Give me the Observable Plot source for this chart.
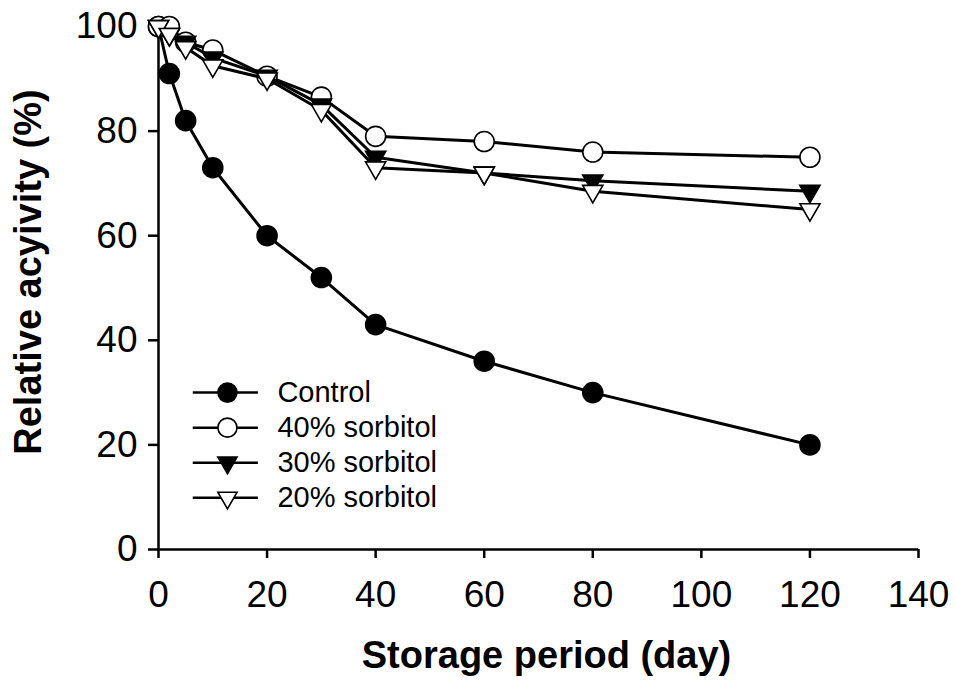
<!DOCTYPE html>
<html><head><meta charset="utf-8">
<script src="https://cdn.jsdelivr.net/npm/d3@7"></script>
<script src="https://cdn.jsdelivr.net/npm/@observablehq/plot@0.6"></script>
<style>
body{margin:0;background:#fff}
#chart svg{font-family:"Liberation Sans",Arial,sans-serif;background:#fff}
</style>
</head><body><div id="chart"></div>
<script>
// ---- data ----
const days = [0, 2, 5, 10, 20, 30, 40, 60, 80, 120];
const control = [100, 91, 82, 73, 60, 52, 43, 36, 30, 20];
const sorbitol40 = [100, 100, 97, 95.5, 90.5, 86.5, 79, 78, 76, 75];
const sorbitol30 = [100, 98.5, 97, 94, 90.5, 85, 75, 72, 70.5, 68.5];
const sorbitol20 = [100, 98.5, 96, 92.5, 90, 84, 73, 72, 68.5, 65];
const seriesNames = ["Control", "40% sorbitol", "30% sorbitol", "20% sorbitol"];
const xTicks = [0, 20, 40, 60, 80, 100, 120, 140];
const yTicks = [0, 20, 40, 60, 80, 100];

// downward triangle symbol
const triangleDown = {
  draw(context, size) {
    const y = -Math.sqrt(size / (Math.sqrt(3) * 3));
    context.moveTo(0, -y * 2);
    context.lineTo(-Math.sqrt(3) * y, y);
    context.lineTo(Math.sqrt(3) * y, y);
    context.closePath();
  }
};

const styles = [
  {fill: "black", symbol: "circle", r: 10},
  {fill: "white", symbol: "circle", r: 10},
  {fill: "black", symbol: triangleDown, r: 7.5},
  {fill: "white", symbol: triangleDown, r: 7.5}
];
const valueLists = [control, sorbitol40, sorbitol30, sorbitol20];

const seriesData = valueLists.map((vals, i) =>
  days.map((d, j) => ({day: d, value: vals[j], series: seriesNames[i]})));

// legend rows (in data units of the chart)
const legendRows = seriesNames.map((name, i) => ({
  name, i, y: 30 - i * 6.7
}));

const marks = [];
// axis lines
marks.push(Plot.ruleY([0], {x1: 0, x2: 140, stroke: "black", strokeWidth: 2.5}));
marks.push(Plot.ruleX([0], {y1: 0, y2: 100, stroke: "black", strokeWidth: 2.5}));
marks.push(Plot.axisX({ticks: xTicks, tickSize: 9, tickPadding: 22, fontSize: 37, label: null, strokeWidth: 2.5, tickFormat: d => String(d)}));
marks.push(Plot.axisY({ticks: yTicks, tickSize: 10, tickPadding: 11, fontSize: 37, label: null, strokeWidth: 2.5, tickFormat: d => String(d)}));

seriesData.forEach((data, i) => {
  marks.push(Plot.line(data, {x: "day", y: "value", stroke: "black", strokeWidth: 3}));
  marks.push(Plot.dot(data, {x: "day", y: "value", r: styles[i].r, symbol: styles[i].symbol, fill: styles[i].fill, stroke: "black", strokeWidth: 1.6}));
});

// legend
legendRows.forEach(row => {
  const s = styles[row.i];
  marks.push(Plot.ruleY([row.y], {x1: 6.4, x2: 18.4, stroke: "black", strokeWidth: 2.5}));
  marks.push(Plot.dot([row], {x: () => 12.7, y: "y", r: s.r * 0.95, symbol: s.symbol, fill: s.fill, stroke: "black", strokeWidth: 1.6}));
  marks.push(Plot.text([row], {x: () => 21.9, y: "y", text: "name", textAnchor: "start", lineAnchor: "middle", fontSize: 29, fill: "black"}));
});

// axis titles
marks.push(Plot.text(["Storage period (day)"], {frameAnchor: "bottom", dy: 106, dx: 8, text: d => d, fontSize: 38, fontWeight: "bold", textAnchor: "middle", lineAnchor: "middle", fill: "black"}));
marks.push(Plot.text(["Relative acyivity (%)"], {frameAnchor: "left", dx: -130, dy: -16, rotate: -90, text: d => d, fontSize: 38, fontWeight: "bold", textAnchor: "middle", lineAnchor: "middle", fill: "black"}));

const chart = Plot.plot({
  width: 955,
  height: 680,
  marginLeft: 158,
  marginTop: 26,
  marginRight: 37,
  marginBottom: 131,
  x: {domain: [0, 140]},
  y: {domain: [0, 100]},
  style: {fontFamily: "'Liberation Sans', Arial, sans-serif", color: "black", background: "white"},
  marks
});
document.getElementById("chart").append(chart);
</script>
</body></html>
